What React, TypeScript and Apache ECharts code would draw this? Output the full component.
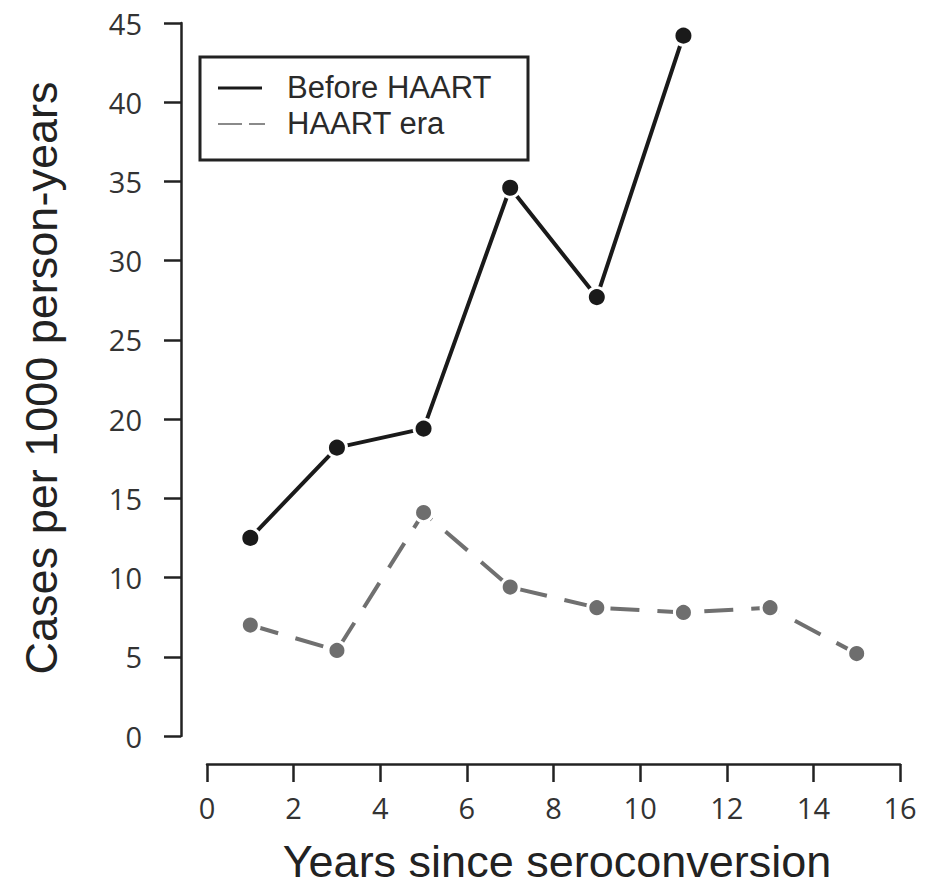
import React, { useEffect, useRef } from "react";
import * as echarts from "echarts";

const years = [1, 3, 5, 7, 9, 11, 13, 15];
const beforeHaart = [12.5, 18.2, 19.4, 34.6, 27.7, 44.2];
const haartEra = [7.0, 5.4, 14.1, 9.4, 8.1, 7.8, 8.1, 5.2];
const seriesNames = ["Before HAART", "HAART era"];
const xTitle = "Years since seroconversion";
const yTitle = "Cases per 1000 person-years";

export default function App() {
  const ref = useRef<HTMLDivElement>(null);
  useEffect(() => {
    if (!ref.current) return;
    const chart = echarts.init(ref.current, null, { renderer: "svg" });
    const axisColor = "#222";
    const labelFont = { fontFamily: "Open Sans", fontSize: 29, color: "#333" };
    chart.setOption({
      animation: false,
      backgroundColor: "#fff",
      grid: { left: 207, right: 39, top: 23, bottom: 151 },
      xAxis: {
        type: "value",
        min: 0,
        max: 16,
        interval: 2,
        offset: 28,
        axisLine: { show: true, onZero: false, lineStyle: { color: axisColor, width: 2.5 } },
        axisTick: { show: true, length: 18, lineStyle: { color: axisColor, width: 2.5 } },
        axisLabel: { ...labelFont, margin: 29 },
        splitLine: { show: false },
      },
      yAxis: {
        type: "value",
        min: 0,
        max: 45,
        interval: 5,
        offset: 26,
        axisLine: { show: true, onZero: false, lineStyle: { color: axisColor, width: 2.5 } },
        axisTick: { show: true, length: 17, lineStyle: { color: axisColor, width: 2.5 } },
        axisLabel: { ...labelFont, margin: 39 },
        splitLine: { show: false },
      },
      series: [
        {
          name: seriesNames[0],
          type: "line",
          data: beforeHaart.map((v, i) => [years[i], v]),
          symbol: "circle",
          symbolSize: 19,
          lineStyle: { color: "#1a1a1a", width: 4 },
          itemStyle: { color: "#1a1a1a", borderColor: "#fff", borderWidth: 3 },
          z: 3,
        },
        {
          name: seriesNames[1],
          type: "line",
          data: haartEra.map((v, i) => [years[i], v]),
          symbol: "circle",
          symbolSize: 18,
          lineStyle: { color: "#707070", width: 4, type: [29, 18] },
          itemStyle: { color: "#6e6e6e", borderColor: "#fff", borderWidth: 3 },
          z: 2,
        },
      ],
      graphic: [
        {
          type: "text",
          x: 41,
          y: 378,
          rotation: Math.PI / 2,
          style: {
            text: yTitle,
            fontFamily: "Liberation Sans, Arial, sans-serif",
            fontSize: 45,
            fill: "#222",
            align: "center",
            verticalAlign: "middle",
          },
        },
        {
          type: "text",
          x: 557,
          y: 861,
          style: {
            text: xTitle,
            fontFamily: "Liberation Sans, Arial, sans-serif",
            fontSize: 45,
            fill: "#222",
            align: "center",
            verticalAlign: "middle",
          },
        },
        {
          type: "rect",
          shape: { x: 200, y: 57, width: 328, height: 103 },
          style: { fill: "#fff", stroke: "#222", lineWidth: 3 },
          z: 10,
        },
        {
          type: "line",
          shape: { x1: 218, y1: 88, x2: 262, y2: 88 },
          style: { stroke: "#1a1a1a", lineWidth: 3 },
          z: 11,
        },
        {
          type: "line",
          shape: { x1: 218, y1: 124, x2: 265, y2: 124 },
          style: { stroke: "#8a8a8a", lineWidth: 2, lineDash: [24, 7] },
          z: 11,
        },
        {
          type: "text",
          x: 287,
          y: 87,
          style: {
            text: seriesNames[0],
            fontFamily: "Liberation Sans, Arial, sans-serif",
            fontSize: 31,
            fill: "#2a2a2a",
            verticalAlign: "middle",
          },
          z: 11,
        },
        {
          type: "text",
          x: 287,
          y: 123,
          style: {
            text: seriesNames[1],
            fontFamily: "Liberation Sans, Arial, sans-serif",
            fontSize: 31,
            fill: "#2a2a2a",
            verticalAlign: "middle",
          },
          z: 11,
        },
      ],
    });
    return () => chart.dispose();
  }, []);
  return <div ref={ref} style={{ width: 939, height: 887, position: "absolute", left: 0, top: 0 }} />;
}
